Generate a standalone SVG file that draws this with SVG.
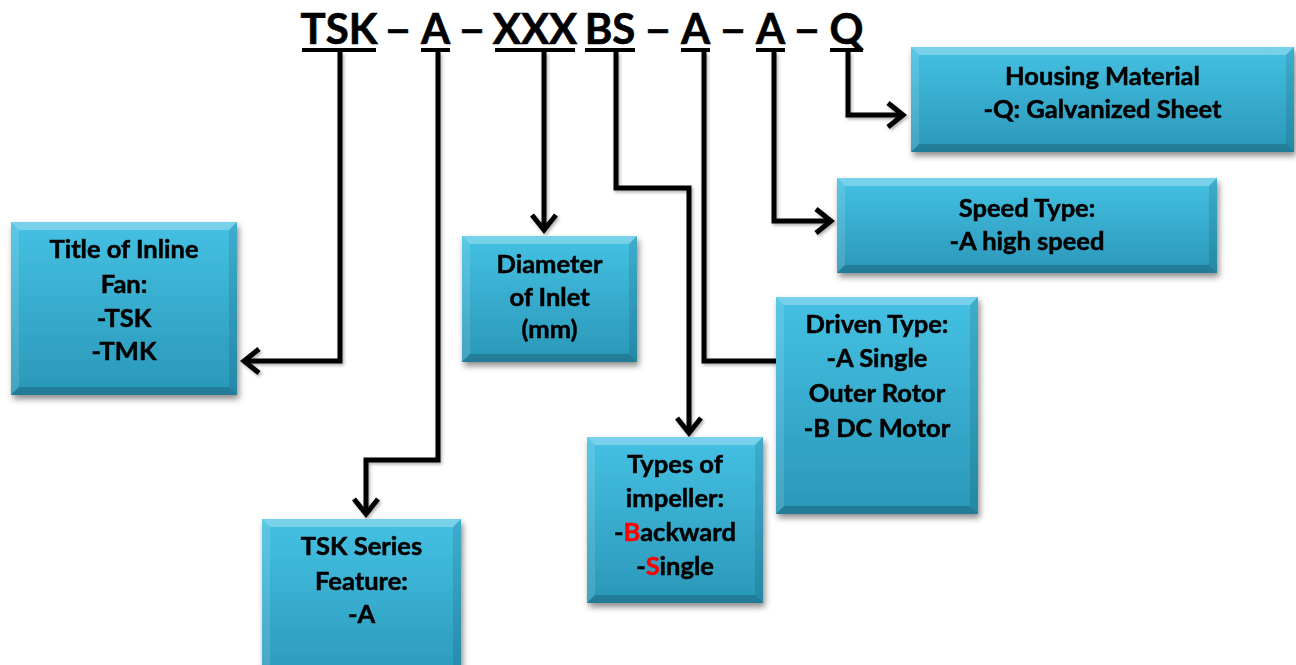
<svg xmlns="http://www.w3.org/2000/svg" width="1296" height="665" viewBox="0 0 1296 665">
<defs>
<linearGradient id="g" x1="0" y1="0" x2="0" y2="1">
<stop offset="0" stop-color="#45c1e3"/>
<stop offset="1" stop-color="#2a97b8"/>
</linearGradient>
<filter id="sh" x="-10%" y="-10%" width="125%" height="130%">
<feDropShadow dx="2" dy="4" stdDeviation="3" flood-color="#000" flood-opacity="0.45"/>
</filter>
<filter id="lsh" x="-20%" y="-20%" width="140%" height="140%">
<feDropShadow dx="1.5" dy="2" stdDeviation="1.5" flood-color="#000" flood-opacity="0.3"/>
</filter>
<marker id="ah" markerUnits="userSpaceOnUse" markerWidth="40" markerHeight="40" orient="auto" overflow="visible" refX="0" refY="0">
<path d="M-15,-12 L0,0 L-15,12" fill="none" stroke="#000" stroke-width="5"/>
</marker>
<style>
.box{fill:url(#g);}
.bt{fill:#ffffff;opacity:0.28;}
.bl{fill:#ffffff;opacity:0.12;}
.br{fill:#000000;opacity:0.10;}
.bb{fill:#000000;opacity:0.18;}
.t{font-family:Lato,"Liberation Sans",sans-serif;font-weight:bold;font-size:25.5px;fill:#000;stroke:#000;stroke-width:0.5px;text-anchor:middle;}
.h{font-family:Lato,"Liberation Sans",sans-serif;font-weight:bold;font-size:42px;fill:#000;stroke:#000;stroke-width:0.6px;text-anchor:middle;}
.red{fill:#ff0000;stroke:#ff0000;}
.c{fill:none;stroke:#000;stroke-width:5;stroke-linejoin:miter;}
.ca{marker-end:url(#ah);}
</style>
</defs>
<rect width="1296" height="665" fill="#ffffff"/>

<g id="title">
<text class="h" x="339" y="44">TSK</text>
<text class="h" transform="translate(398,0) scale(1.15,1)" x="0" y="44">–</text>
<text class="h" x="435.5" y="44">A</text>
<text class="h" transform="translate(472,0) scale(1.15,1)" x="0" y="44">–</text>
<text class="h" x="535" y="44">XXX</text>
<text class="h" x="610" y="44">BS</text>
<text class="h" transform="translate(658,0) scale(1.15,1)" x="0" y="44">–</text>
<text class="h" x="695.5" y="44">A</text>
<text class="h" transform="translate(733,0) scale(1.15,1)" x="0" y="44">–</text>
<text class="h" x="770.5" y="44">A</text>
<text class="h" transform="translate(807,0) scale(1.15,1)" x="0" y="44">–</text>
<text class="h" x="846.5" y="44">Q</text>
<rect x="302" y="48" width="74" height="4"/>
<rect x="421" y="48" width="29" height="4"/>
<rect x="495" y="48" width="80" height="4"/>
<rect x="585" y="48" width="50" height="4"/>
<rect x="681" y="48" width="29" height="4"/>
<rect x="756" y="48" width="29" height="4"/>
<rect x="830" y="48" width="33" height="4"/>
</g>

<g id="connectors" filter="url(#lsh)">
<path class="c ca" d="M340,52 V361 H244"/>
<path class="c ca" d="M438,52 V460 H366 V514"/>
<path class="c ca" d="M544,52 V230"/>
<path class="c ca" d="M616,52 V188 H689 V433"/>
<path class="c" d="M704,52 V361 H776"/>
<path class="c ca" d="M774,52 V221 H831"/>
<path class="c ca" d="M848,52 V115 H903"/>
</g>

<g id="node-title" transform="translate(11,222)" filter="url(#sh)">
<rect class="box" width="226" height="173"/>
<polygon class="bt" points="0,0 226,0 218,8 8,8"/>
<polygon class="bl" points="0,0 8,8 8,165 0,173"/>
<polygon class="br" points="226,0 226,173 218,165 218,8"/>
<polygon class="bb" points="0,173 8,165 218,165 226,173"/>
<text class="t" x="113" y="36">Title of Inline</text>
<text class="t" x="113" y="71">Fan:</text>
<text class="t" x="113" y="105">-TSK</text>
<text class="t" x="113" y="138">-TMK</text>
</g>

<g id="node-diameter" transform="translate(462,236)" filter="url(#sh)">
<rect class="box" width="175" height="126"/>
<polygon class="bt" points="0,0 175,0 167,8 8,8"/>
<polygon class="bl" points="0,0 8,8 8,118 0,126"/>
<polygon class="br" points="175,0 175,126 167,118 167,8"/>
<polygon class="bb" points="0,126 8,118 167,118 175,126"/>
<text class="t" x="87.5" y="37">Diameter</text>
<text class="t" x="87.5" y="70">of Inlet</text>
<text class="t" x="87.5" y="102">(mm)</text>
</g>

<g id="node-series" transform="translate(262,519)" filter="url(#sh)">
<rect class="box" width="199" height="170"/>
<polygon class="bt" points="0,0 199,0 191,8 8,8"/>
<polygon class="bl" points="0,0 8,8 8,162 0,170"/>
<polygon class="br" points="199,0 199,170 191,162 191,8"/>
<text class="t" x="99.5" y="36">TSK Series</text>
<text class="t" x="99.5" y="71">Feature:</text>
<text class="t" x="99.5" y="104">-A</text>
</g>

<g id="node-impeller" transform="translate(587,437)" filter="url(#sh)">
<rect class="box" width="176" height="166"/>
<polygon class="bt" points="0,0 176,0 168,8 8,8"/>
<polygon class="bl" points="0,0 8,8 8,158 0,166"/>
<polygon class="br" points="176,0 176,166 168,158 168,8"/>
<polygon class="bb" points="0,166 8,158 168,158 176,166"/>
<text class="t" x="88" y="36">Types of</text>
<text class="t" x="88" y="70">impeller:</text>
<text class="t" x="88" y="104">-<tspan class="red">B</tspan>ackward</text>
<text class="t" x="88" y="138">-<tspan class="red">S</tspan>ingle</text>
</g>

<g id="node-driven" transform="translate(776,297)" filter="url(#sh)">
<rect class="box" width="202" height="217"/>
<polygon class="bt" points="0,0 202,0 194,8 8,8"/>
<polygon class="bl" points="0,0 8,8 8,209 0,217"/>
<polygon class="br" points="202,0 202,217 194,209 194,8"/>
<polygon class="bb" points="0,217 8,209 194,209 202,217"/>
<text class="t" x="101" y="36">Driven Type:</text>
<text class="t" x="101" y="70">-A Single</text>
<text class="t" x="101" y="105">Outer Rotor</text>
<text class="t" x="101" y="140">-B DC Motor</text>
</g>

<g id="node-speed" transform="translate(837,178)" filter="url(#sh)">
<rect class="box" width="380" height="95"/>
<polygon class="bt" points="0,0 380,0 372,8 8,8"/>
<polygon class="bl" points="0,0 8,8 8,87 0,95"/>
<polygon class="br" points="380,0 380,95 372,87 372,8"/>
<polygon class="bb" points="0,95 8,87 372,87 380,95"/>
<text class="t" x="190" y="39">Speed Type:</text>
<text class="t" x="190" y="72">-A high speed</text>
</g>

<g id="node-housing" transform="translate(911,47)" filter="url(#sh)">
<rect class="box" width="383" height="105"/>
<polygon class="bt" points="0,0 383,0 375,8 8,8"/>
<polygon class="bl" points="0,0 8,8 8,97 0,105"/>
<polygon class="br" points="383,0 383,105 375,97 375,8"/>
<polygon class="bb" points="0,105 8,97 375,97 383,105"/>
<text class="t" x="191.5" y="38">Housing Material</text>
<text class="t" x="191.5" y="71">-Q: Galvanized Sheet</text>
</g>
</svg>
